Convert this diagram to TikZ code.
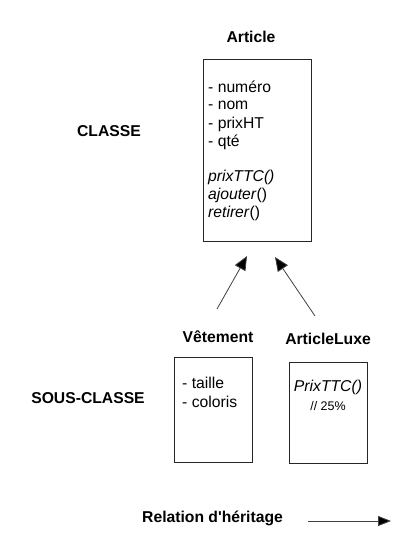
\documentclass[tikz,border=0pt]{standalone}
\usepackage{fontspec}
\setmainfont{Liberation Sans}
\usetikzlibrary{arrows.meta}
\begin{document}
\begin{tikzpicture}[x=1pt,y=-1pt,
  umlbox/.style={draw=black!85,line width=0.9pt,inner sep=0pt},
  title/.style={font=\bfseries\fontsize{15.7}{18}\selectfont,inner sep=0pt},
  item/.style={font=\fontsize{15.7}{18}\selectfont,inner sep=0pt,anchor=west},
  small/.style={font=\fontsize{12.5}{15}\selectfont,inner sep=0pt},
  inherit/.style={draw=black!75,line width=0.8pt,-{Triangle[length=14pt,width=12pt,fill=black]}}]
\useasboundingbox (0,0) rectangle (413,540);
% Article
\node[title] (tArticle) at (251,37) {Article};
\node[umlbox,minimum width=108pt,minimum height=182pt] (article) at (257,150) {};
\node[item] (a1) at (208,87) {- numéro};
\node[item] (a2) at (208,105) {- nom};
\node[item] (a3) at (208,124) {- prixHT};
\node[item] (a4) at (208,142) {- qté};
\node[item] (a5) at (208,177) {\textit{prixTTC()}};
\node[item] (a6) at (208,195) {\textit{ajouter}()};
\node[item] (a7) at (208,213) {\textit{retirer}()};
\node[title] (classe) at (109,131) {CLASSE};
% Vetement
\node[title] (tVet) at (218,337) {Vêtement};
\node[umlbox,minimum width=78pt,minimum height=105pt] (vet) at (213,409.5) {};
\node[item] (v1) at (182,383) {- taille};
\node[item] (v2) at (182,402) {- coloris};
% ArticleLuxe
\node[title] (tLuxe) at (328,339) {ArticleLuxe};
\node[umlbox,minimum width=78pt,minimum height=101pt] (luxe) at (328,412.5) {};
\node[font=\fontsize{15.7}{18}\selectfont,inner sep=0pt] (l1) at (328,387) {\textit{PrixTTC()}};
\node[small] (l2) at (328,406) {// 25\%};
\node[title] (sous) at (88,398) {SOUS-CLASSE};
% arrows
\coordinate (s1) at (217,309);
\coordinate (e1) at (247,256);
\coordinate (s2) at (315,316);
\coordinate (e2) at (275,257);
\draw[inherit] (s1) -- (e1);
\draw[inherit] (s2) -- (e2);
% legend
\node[title,anchor=west] (leg) at (142,518) {Relation d\textquotesingle héritage};
\coordinate (ls) at (308,521);
\coordinate (le) at (391,521);
\draw[draw=black!75,line width=0.8pt,-{Triangle[length=13pt,width=10pt,fill=black]}] (ls) -- (le);
\end{tikzpicture}
\end{document}
